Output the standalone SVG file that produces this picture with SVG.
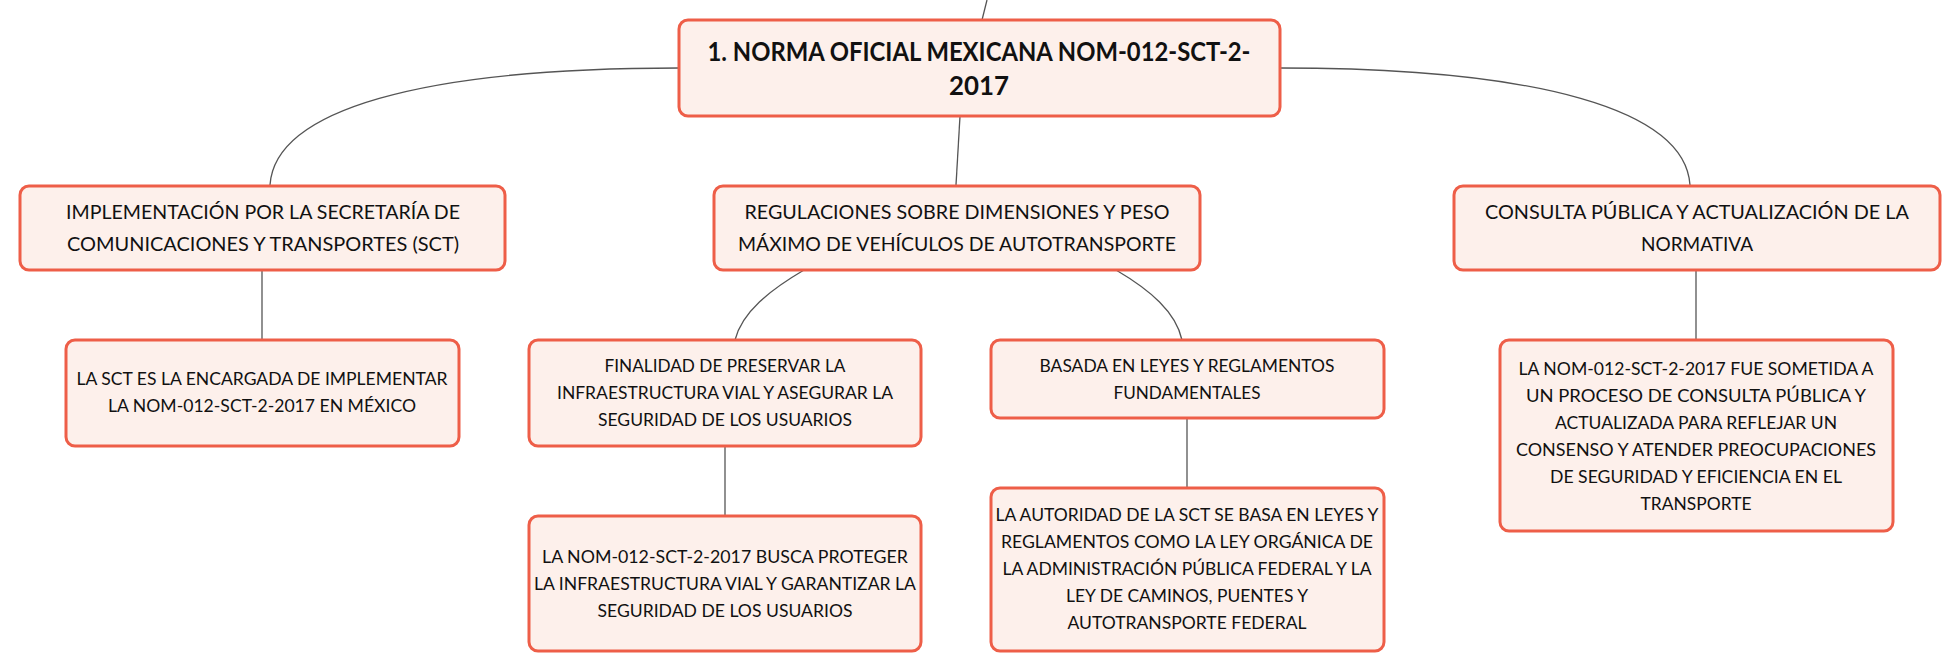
<svg xmlns="http://www.w3.org/2000/svg" width="1960" height="672" viewBox="0 0 1960 672">
<style>
.box{fill:#FDF0EB;stroke:#EE5E48;stroke-width:3}
.t{font-family:Lato,"Liberation Sans",sans-serif;fill:#111;text-anchor:middle}
.root{font-size:26px;font-weight:bold}
.l1{font-size:19px}
.l2{font-size:17.5px}
.c{fill:none;stroke:#555;stroke-width:1.3}
</style>
<rect width="1960" height="672" fill="#fff"/>
<g id="connectors">
<path class="c" d="M987,0 L982,20"/>
<path class="c" d="M679,68 C420,68 275,110 270,185"/>
<path class="c" d="M1280,68 C1540,68 1685,110 1690,185"/>
<path class="c" d="M960,116 L956,185"/>
<path class="c" d="M262,270 L262,340"/>
<path class="c" d="M804,270 C770,290 742,312 735,340"/>
<path class="c" d="M1116,270 C1150,290 1176,312 1182,340"/>
<path class="c" d="M1696,270 L1696,340"/>
<path class="c" d="M725,446 L725,516"/>
<path class="c" d="M1187,418 L1187,488"/>
</g>
<g id="root">
<rect class="box" x="679" y="20" width="601" height="96" rx="9"/>
<text class="t root" x="979" y="61" textLength="543" lengthAdjust="spacingAndGlyphs">1. NORMA OFICIAL MEXICANA NOM-012-SCT-2-</text>
<text class="t root" x="979" y="95" textLength="60" lengthAdjust="spacingAndGlyphs">2017</text>
</g>
<g id="n-implementacion">
<rect class="box" x="20" y="186" width="485" height="84" rx="9"/>
<text class="t l1" x="263" y="219" textLength="394" lengthAdjust="spacingAndGlyphs">IMPLEMENTACIÓN POR LA SECRETARÍA DE</text>
<text class="t l1" x="263" y="251" textLength="392" lengthAdjust="spacingAndGlyphs">COMUNICACIONES Y TRANSPORTES (SCT)</text>
</g>
<g id="n-regulaciones">
<rect class="box" x="714" y="186" width="486" height="84" rx="9"/>
<text class="t l1" x="957" y="219" textLength="425" lengthAdjust="spacingAndGlyphs">REGULACIONES SOBRE DIMENSIONES Y PESO</text>
<text class="t l1" x="957" y="251" textLength="438" lengthAdjust="spacingAndGlyphs">MÁXIMO DE VEHÍCULOS DE AUTOTRANSPORTE</text>
</g>
<g id="n-consulta">
<rect class="box" x="1454" y="186" width="486" height="84" rx="9"/>
<text class="t l1" x="1697" y="219" textLength="424" lengthAdjust="spacingAndGlyphs">CONSULTA PÚBLICA Y ACTUALIZACIÓN DE LA</text>
<text class="t l1" x="1697" y="251" textLength="112" lengthAdjust="spacingAndGlyphs">NORMATIVA</text>
</g>
<g id="n-sct">
<rect class="box" x="66" y="340" width="393" height="106" rx="9"/>
<text class="t l2" x="262" y="385" textLength="371" lengthAdjust="spacingAndGlyphs">LA SCT ES LA ENCARGADA DE IMPLEMENTAR</text>
<text class="t l2" x="262" y="412" textLength="308" lengthAdjust="spacingAndGlyphs">LA NOM-012-SCT-2-2017 EN MÉXICO</text>
</g>
<g id="n-finalidad">
<rect class="box" x="529" y="340" width="392" height="106" rx="9"/>
<text class="t l2" x="725" y="372" textLength="241" lengthAdjust="spacingAndGlyphs">FINALIDAD DE PRESERVAR LA</text>
<text class="t l2" x="725" y="399" textLength="336" lengthAdjust="spacingAndGlyphs">INFRAESTRUCTURA VIAL Y ASEGURAR LA</text>
<text class="t l2" x="725" y="426" textLength="254" lengthAdjust="spacingAndGlyphs">SEGURIDAD DE LOS USUARIOS</text>
</g>
<g id="n-basada">
<rect class="box" x="991" y="340" width="393" height="78" rx="9"/>
<text class="t l2" x="1187" y="372" textLength="295" lengthAdjust="spacingAndGlyphs">BASADA EN LEYES Y REGLAMENTOS</text>
<text class="t l2" x="1187" y="399" textLength="147" lengthAdjust="spacingAndGlyphs">FUNDAMENTALES</text>
</g>
<g id="n-sometida">
<rect class="box" x="1500" y="340" width="393" height="191" rx="9"/>
<text class="t l2" x="1696" y="375" textLength="355" lengthAdjust="spacingAndGlyphs">LA NOM-012-SCT-2-2017 FUE SOMETIDA A</text>
<text class="t l2" x="1696" y="402" textLength="340" lengthAdjust="spacingAndGlyphs">UN PROCESO DE CONSULTA PÚBLICA Y</text>
<text class="t l2" x="1696" y="429" textLength="282" lengthAdjust="spacingAndGlyphs">ACTUALIZADA PARA REFLEJAR UN</text>
<text class="t l2" x="1696" y="456" textLength="360" lengthAdjust="spacingAndGlyphs">CONSENSO Y ATENDER PREOCUPACIONES</text>
<text class="t l2" x="1696" y="483" textLength="292" lengthAdjust="spacingAndGlyphs">DE SEGURIDAD Y EFICIENCIA EN EL</text>
<text class="t l2" x="1696" y="510" textLength="111" lengthAdjust="spacingAndGlyphs">TRANSPORTE</text>
</g>
<g id="n-proteger">
<rect class="box" x="529" y="516" width="392" height="135" rx="9"/>
<text class="t l2" x="725" y="563" textLength="366" lengthAdjust="spacingAndGlyphs">LA NOM-012-SCT-2-2017 BUSCA PROTEGER</text>
<text class="t l2" x="725" y="590" textLength="382" lengthAdjust="spacingAndGlyphs">LA INFRAESTRUCTURA VIAL Y GARANTIZAR LA</text>
<text class="t l2" x="725" y="617" textLength="255" lengthAdjust="spacingAndGlyphs">SEGURIDAD DE LOS USUARIOS</text>
</g>
<g id="n-autoridad">
<rect class="box" x="991" y="488" width="393" height="163" rx="9"/>
<text class="t l2" x="1187" y="521" textLength="383" lengthAdjust="spacingAndGlyphs">LA AUTORIDAD DE LA SCT SE BASA EN LEYES Y</text>
<text class="t l2" x="1187" y="548" textLength="372" lengthAdjust="spacingAndGlyphs">REGLAMENTOS COMO LA LEY ORGÁNICA DE</text>
<text class="t l2" x="1187" y="575" textLength="369" lengthAdjust="spacingAndGlyphs">LA ADMINISTRACIÓN PÚBLICA FEDERAL Y LA</text>
<text class="t l2" x="1187" y="602" textLength="242" lengthAdjust="spacingAndGlyphs">LEY DE CAMINOS, PUENTES Y</text>
<text class="t l2" x="1187" y="629" textLength="239" lengthAdjust="spacingAndGlyphs">AUTOTRANSPORTE FEDERAL</text>
</g>
</svg>
